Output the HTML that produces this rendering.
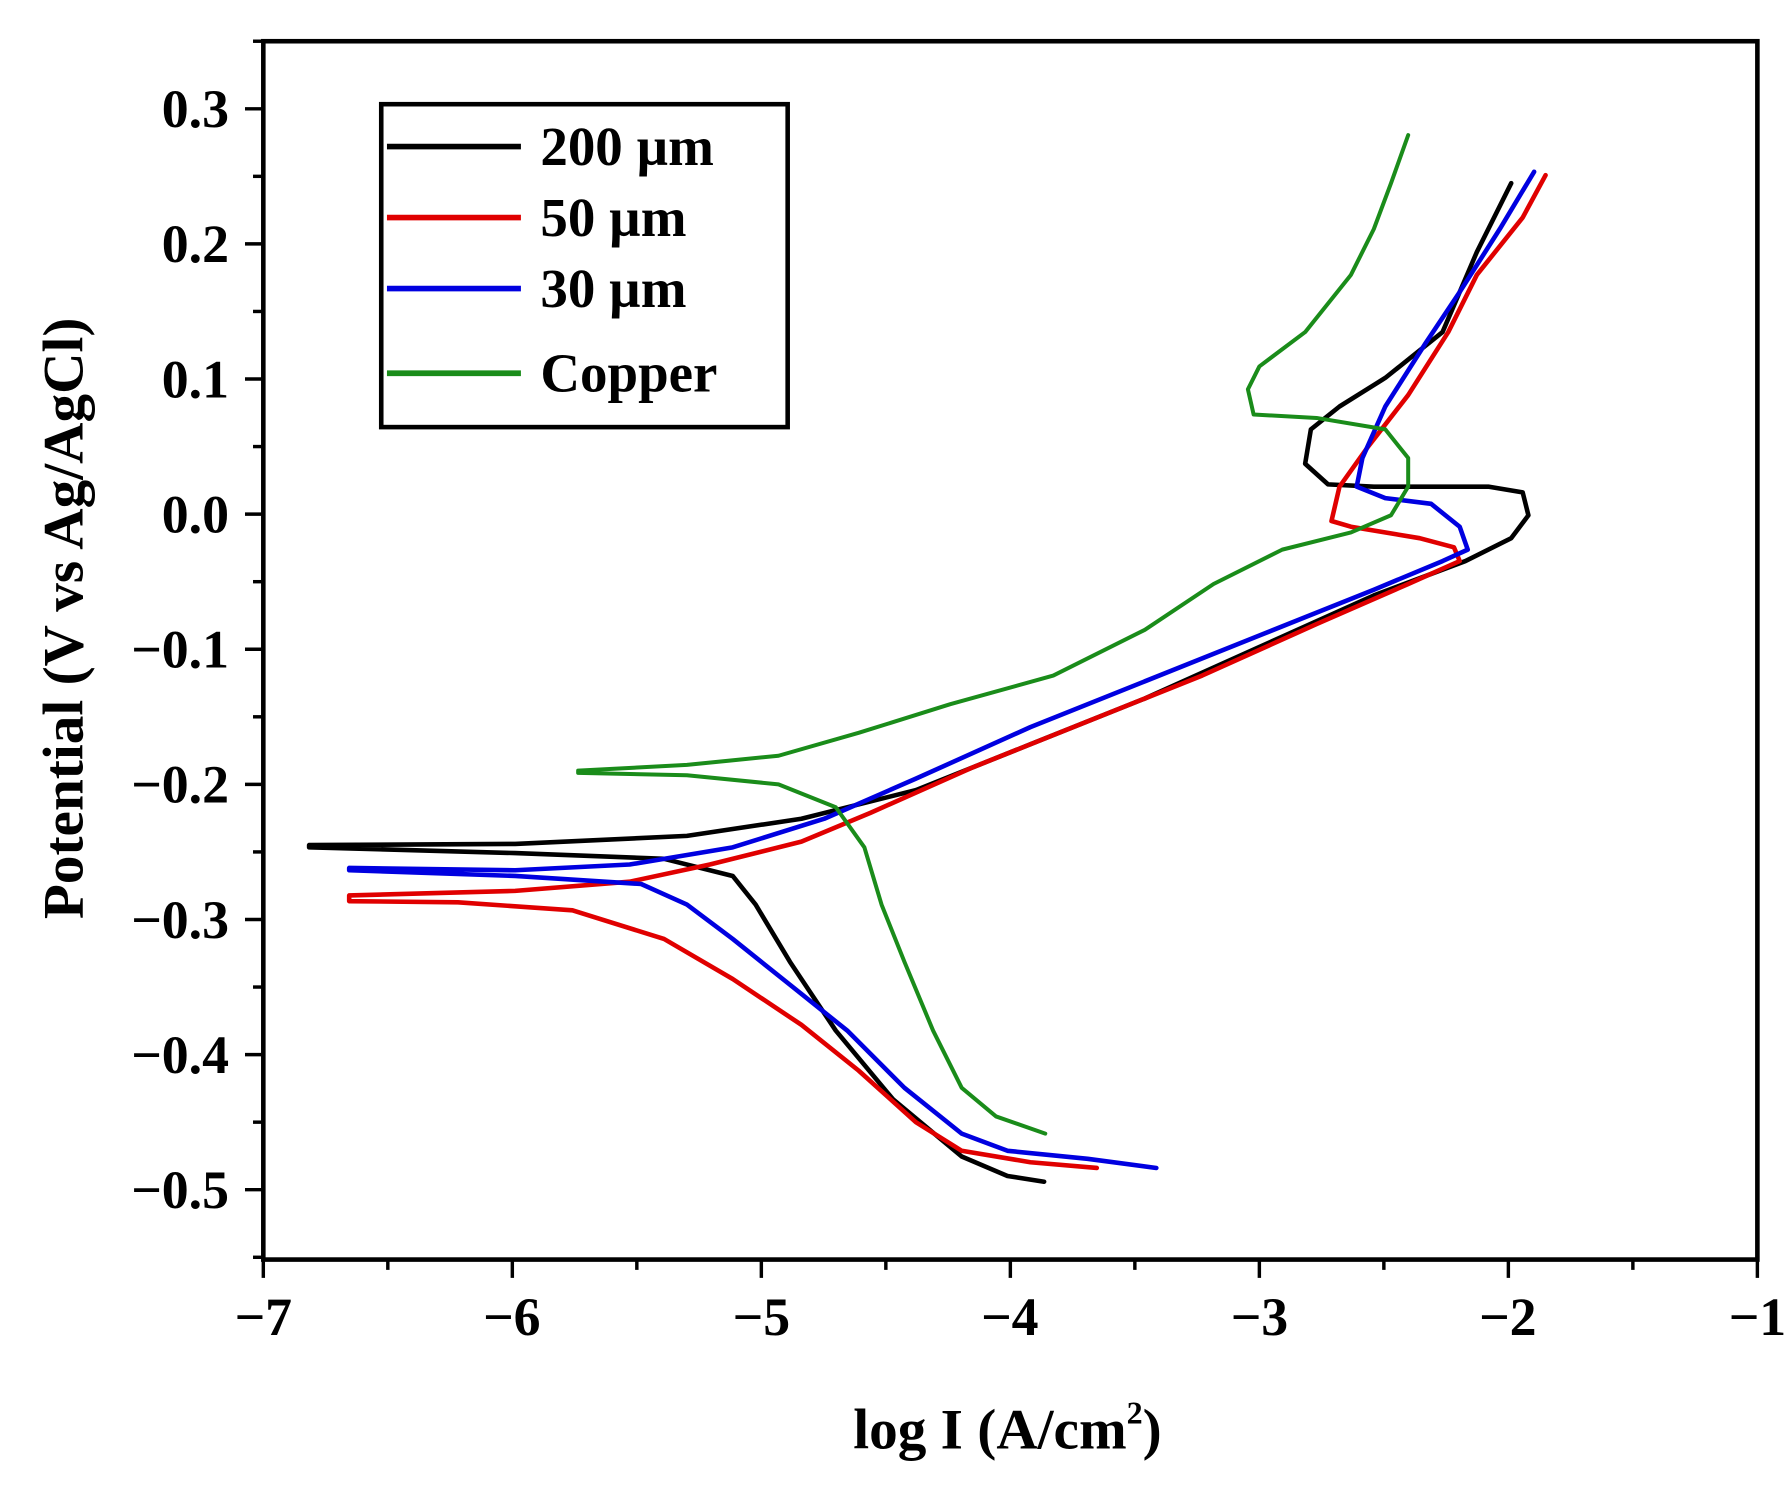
<!DOCTYPE html>
<html><head><style>html,body{margin:0;padding:0;background:#fff}</style></head>
<body>
<svg width="1786" height="1484" viewBox="0 0 1560 1296" xmlns="http://www.w3.org/2000/svg" preserveAspectRatio="none" font-family="'Liberation Serif',serif" font-weight="bold">
<rect width="1560" height="1296" fill="#fff"/>
<rect x="230" y="36" width="1305" height="1064" fill="none" stroke="#000" stroke-width="4"/>
<g stroke="#000" stroke-width="3">
<line x1="214" y1="95" x2="230" y2="95"/><line x1="214" y1="213" x2="230" y2="213"/><line x1="214" y1="331" x2="230" y2="331"/><line x1="214" y1="449" x2="230" y2="449"/><line x1="214" y1="567" x2="230" y2="567"/><line x1="214" y1="685" x2="230" y2="685"/><line x1="214" y1="803" x2="230" y2="803"/><line x1="214" y1="921" x2="230" y2="921"/><line x1="214" y1="1039" x2="230" y2="1039"/>
<line x1="221" y1="154" x2="230" y2="154"/><line x1="221" y1="272" x2="230" y2="272"/><line x1="221" y1="390" x2="230" y2="390"/><line x1="221" y1="508" x2="230" y2="508"/><line x1="221" y1="626" x2="230" y2="626"/><line x1="221" y1="744" x2="230" y2="744"/><line x1="221" y1="862" x2="230" y2="862"/><line x1="221" y1="980" x2="230" y2="980"/><line x1="221" y1="1098" x2="230" y2="1098"/><line x1="221" y1="36" x2="230" y2="36"/>
<line x1="230" y1="1100" x2="230" y2="1116"/><line x1="447.5" y1="1100" x2="447.5" y2="1116"/><line x1="665" y1="1100" x2="665" y2="1116"/><line x1="882.5" y1="1100" x2="882.5" y2="1116"/><line x1="1100" y1="1100" x2="1100" y2="1116"/><line x1="1317.5" y1="1100" x2="1317.5" y2="1116"/><line x1="1535" y1="1100" x2="1535" y2="1116"/>
<line x1="338.75" y1="1100" x2="338.75" y2="1109"/><line x1="556.25" y1="1100" x2="556.25" y2="1109"/><line x1="773.75" y1="1100" x2="773.75" y2="1109"/><line x1="991.25" y1="1100" x2="991.25" y2="1109"/><line x1="1208.75" y1="1100" x2="1208.75" y2="1109"/><line x1="1426.25" y1="1100" x2="1426.25" y2="1109"/>
</g>
<g font-size="47" text-anchor="end">
<text x="200" y="111">0.3</text><text x="200" y="229">0.2</text><text x="200" y="347">0.1</text><text x="200" y="465">0.0</text><text x="200" y="583">−0.1</text><text x="200" y="701">−0.2</text><text x="200" y="819">−0.3</text><text x="200" y="937">−0.4</text><text x="200" y="1055">−0.5</text>
</g>
<g font-size="47" text-anchor="middle">
<text x="230" y="1166">−7</text><text x="447" y="1166">−6</text><text x="665" y="1166">−5</text><text x="882" y="1166">−4</text><text x="1100" y="1166">−3</text><text x="1317" y="1166">−2</text><text x="1535" y="1166">−1</text>
</g>
<g font-size="50" text-anchor="middle">
<text x="880" y="1265">log I (A/cm<tspan font-size="28" dy="-22">2</tspan><tspan dy="22">)</tspan></text>
<text transform="translate(72,540) rotate(-90)">Potential (V vs Ag/AgCl)</text>
</g>
<g fill="none" stroke-width="4" stroke-linejoin="round" stroke-linecap="round">
<polyline stroke="#000" points="912,1032 880,1027 840,1010 780,960 730,900 690,840 660,790 640,765 580,750 450,745 270,740 270,738 450,737 600,730 700,715 800,690 900,650 1000,610 1100,565 1200,520 1280,490 1320,470 1335,450 1330,430 1300,425 1200,425 1160,423 1140,405 1145,375 1170,355 1210,330 1260,290 1290,220 1320,160"/>
<polyline stroke="#e00000" points="958,1020 900,1015 840,1005 800,980 750,935 700,895 640,855 580,820 500,795 400,788 305,787 305,782 450,778 550,770 620,755 700,735 760,710 850,670 950,630 1050,590 1150,545 1230,510 1275,490 1270,478 1240,470 1180,460 1163,455 1170,425 1195,390 1230,345 1265,290 1290,240 1330,190 1350,153"/>
<polyline stroke="#0000e0" points="1010,1020 950,1012 880,1005 840,990 790,950 740,900 690,860 640,820 600,790 560,772 450,765 305,760 305,758 450,760 550,755 640,740 720,715 800,680 900,635 1000,595 1100,555 1200,515 1260,490 1282,480 1275,460 1250,440 1210,435 1185,425 1190,400 1210,355 1245,300 1275,255 1310,200 1340,150"/>
<polyline stroke="#1a8c1a" stroke-width="3.5" points="913,990 870,975 840,950 815,900 790,840 770,790 755,740 730,705 680,685 600,677 505,675 505,673 600,668 680,660 750,640 830,615 920,590 1000,550 1060,510 1120,480 1180,465 1215,450 1230,425 1230,400 1210,375 1150,365 1095,362 1090,340 1100,320 1140,290 1180,240 1200,200 1215,160 1230,118"/>
</g>
<rect x="333" y="91" width="355" height="282" fill="none" stroke="#000" stroke-width="4"/>
<g stroke-width="5">
<line x1="338" y1="128" x2="455" y2="128" stroke="#000"/>
<line x1="338" y1="190" x2="455" y2="190" stroke="#e00000"/>
<line x1="338" y1="252" x2="455" y2="252" stroke="#0000e0"/>
<line x1="338" y1="326" x2="455" y2="326" stroke="#1a8c1a"/>
</g>
<g font-size="48">
<text x="472" y="144">200 µm</text><text x="472" y="206">50 µm</text><text x="472" y="268">30 µm</text><text x="472" y="342">Copper</text>
</g>
</svg>
</body></html>
